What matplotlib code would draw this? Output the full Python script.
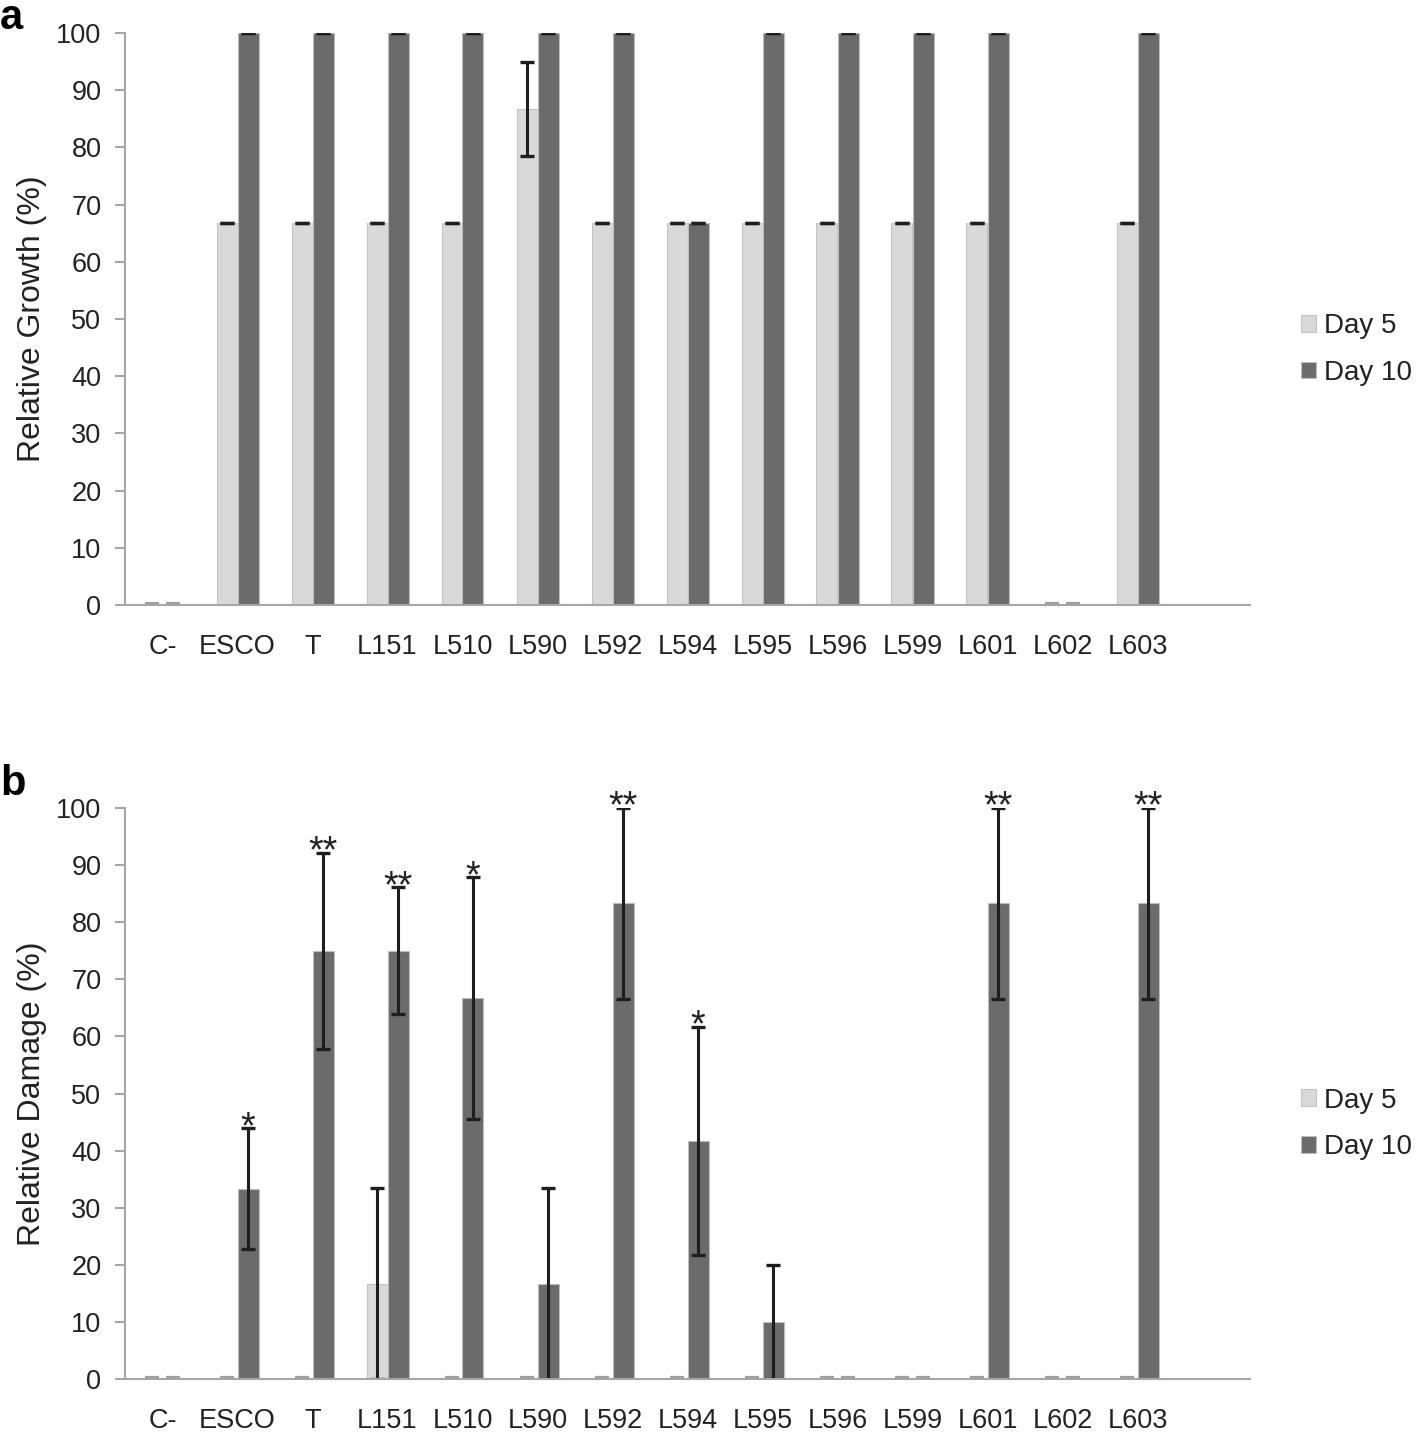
import numpy as np
import matplotlib
matplotlib.use('Agg')
import matplotlib.pyplot as plt
from matplotlib.transforms import offset_copy

plt.rcParams['font.family'] = ['Liberation Sans', 'DejaVu Sans']

cats = ['C-', 'ESCO', 'T', 'L151', 'L510', 'L590', 'L592', 'L594',
        'L595', 'L596', 'L599', 'L601', 'L602', 'L603']

# panel a - relative growth
growth_d5 = [0, 66.7, 66.7, 66.7, 66.7, 86.7, 66.7, 66.7, 66.7, 66.7, 66.7, 66.7, 0, 66.7]
growth_d5_err = [0, 0, 0, 0, 0, 8.2, 0, 0, 0, 0, 0, 0, 0, 0]
growth_d10 = [0, 100, 100, 100, 100, 100, 100, 66.7, 100, 100, 100, 100, 0, 100]
growth_d10_err = [0] * 14

# panel b - relative damage
damage_d5 = [0, 0, 0, 16.7, 0, 0, 0, 0, 0, 0, 0, 0, 0, 0]
damage_d5_err = [0, 0, 0, 16.7, 0, 0, 0, 0, 0, 0, 0, 0, 0, 0]
damage_d10 = [0, 33.3, 75, 75, 66.7, 16.7, 83.3, 41.7, 10, 0, 0, 83.3, 0, 83.3]
damage_d10_err = [0, 10.6, 17.2, 11.1, 21.2, 16.7, 16.7, 20, 10, 0, 0, 16.7, 0, 16.7]
stars = ['', '*', '**', '**', '*', '', '**', '*', '', '', '', '**', '', '**']

c5 = '#d9d9d9'
c10 = '#6b6b6b'
txt = '#222222'
spine = '#a6a6a6'
W = 1418
H = 1438

fig = plt.figure(figsize=(W / 100, H / 100), dpi=100)
x = np.arange(len(cats))
bw = 0.28


def panel(rect, d5, e5, d10, e10, ylabel, letter, ly, legy, stars=None):
    ax = fig.add_axes(rect)
    ax.bar(x - bw / 2, d5, bw, color=c5, edgecolor='#c4c4c4', linewidth=0.8, label='Day 5')
    ax.bar(x + bw / 2, d10, bw, color=c10, edgecolor='#bdbdbd', linewidth=0.8, label='Day 10')
    # zero-height bars show as short grey strokes just above the axis
    up = offset_copy(ax.transData, fig=fig, y=2, units='dots')
    for off, vals in [(-bw / 2, d5), (bw / 2, d10)]:
        v = np.array(vals, float)
        z = x[v == 0] + off
        ax.hlines(np.zeros(len(z)), z - bw * 0.35, z + bw * 0.35, colors='#a0a0a0',
                  linewidth=1.6, transform=up, zorder=3)
    for off, vals, errs in [(-bw / 2, d5, e5), (bw / 2, d10, e10)]:
        v = np.array(vals, float)
        e = np.array(errs, float)
        m = v > 0
        ax.errorbar(x[m] + off, v[m], yerr=e[m], fmt='none', ecolor='#1e1e1e',
                    elinewidth=2.2, capsize=5, capthick=2.4)
    if stars:
        for i, s in enumerate(stars):
            if s:
                ax.annotate(s, (x[i] + bw / 2, d10[i] + e10[i]), xytext=(0, -7),
                            textcoords='offset points', ha='center', va='baseline',
                            fontsize=27, color=txt)
    ax.set_xlim(-0.5, 14.5)
    ax.set_ylim(0, 100)
    ax.set_yticks(range(0, 101, 10))
    ax.set_xticks(x)
    ax.set_xticklabels(cats)
    for s in ['top', 'right']:
        ax.spines[s].set_visible(False)
    for s in ['left', 'bottom']:
        ax.spines[s].set_color(spine)
        ax.spines[s].set_linewidth(1.5)
    ax.tick_params(axis='y', direction='out', length=7, width=1.5, color=spine,
                   labelsize=19.5, labelcolor=txt, pad=10)
    ax.tick_params(axis='x', length=0, labelsize=19.5, labelcolor=txt, pad=21)
    fig.text(32 / W, (rect[1] + rect[3] / 2), ylabel, rotation=90, ha='center',
             va='center', fontsize=23, color=txt)
    fig.text(0.0, 1 - ly / H, letter, fontsize=30, fontweight='bold', va='baseline', color='black')
    h, l = ax.get_legend_handles_labels()
    fig.legend(h, l, loc='center left', bbox_to_anchor=(1287 / W, 1 - legy / H),
               frameon=False, fontsize=20, handlelength=0.55, handleheight=0.55,
               handletextpad=0.3, labelspacing=0.75, borderpad=0, labelcolor=txt)
    return ax


panel([125 / W, 1 - 605 / H, 1125 / W, 572 / H], growth_d5, growth_d5_err,
      growth_d10, growth_d10_err, 'Relative Growth (%)', 'a', 29, 349.5)
panel([125 / W, 1 - 1379 / H, 1125 / W, 571 / H], damage_d5, damage_d5_err,
      damage_d10, damage_d10_err, 'Relative Damage (%)', 'b', 795, 1124, stars)

fig.savefig('out.png', dpi=100, facecolor='white')
